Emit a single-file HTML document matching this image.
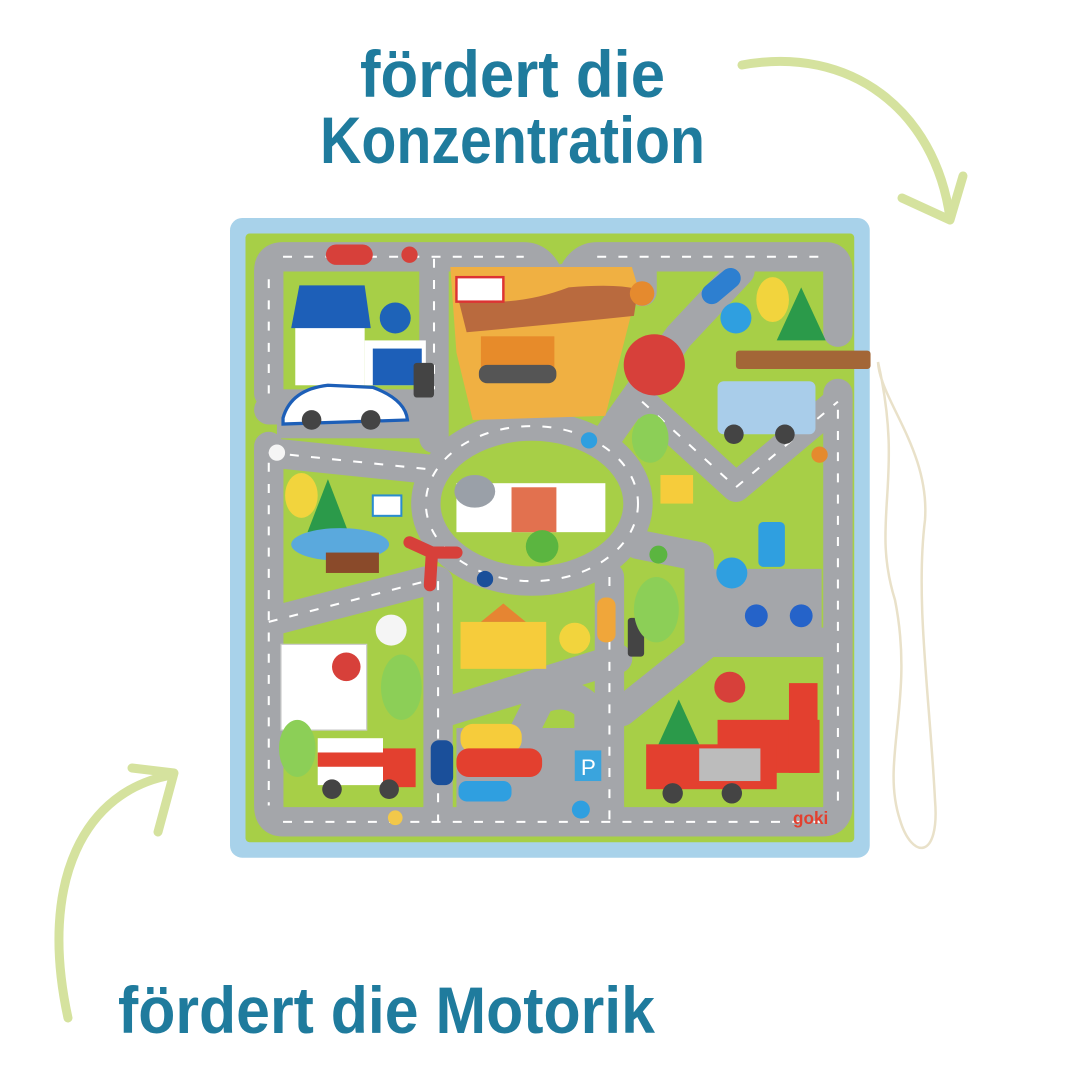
<!DOCTYPE html>
<html><head><meta charset="utf-8"><style>
html,body{margin:0;padding:0;background:#fff;width:1080px;height:1080px;overflow:hidden}
</style></head><body>
<svg width="1080" height="1080" viewBox="0 0 1080 1080" xmlns="http://www.w3.org/2000/svg">
<rect width="1080" height="1080" fill="#fff"/>
<g font-family="Liberation Sans, sans-serif" font-weight="bold" fill="#1f7b9d" font-size="66">
<text x="360" y="97" textLength="305" lengthAdjust="spacingAndGlyphs">fördert die</text>
<text x="320" y="163" textLength="385" lengthAdjust="spacingAndGlyphs">Konzentration</text>
<text x="118" y="1033" textLength="537" lengthAdjust="spacingAndGlyphs">fördert die Motorik</text>
</g>
<g stroke="#d5e29e" stroke-width="9" fill="none" stroke-linecap="round" stroke-linejoin="round">
<path d="M742,65 C850,45 935,110 950,218"/>
<path d="M902,198 L950,220 L963,176"/>
<path d="M68,1018 C38,880 85,790 172,775"/>
<path d="M132,768 L174,773 L158,832"/>
</g>
<g transform="translate(230,218) scale(0.408)">
<rect x="0" y="0" width="1568" height="1568" rx="30" fill="#a8d2ea"/>
<rect x="38" y="38" width="1492" height="1492" rx="10" fill="#a7cf47"/>
<g stroke="#a4a6aa" stroke-width="72" fill="none" stroke-linejoin="round" stroke-linecap="round">
<path d="M95,430 L95,130 Q95,95 130,95 L720,95 Q760,95 780,140 Q800,160 840,140 Q860,95 900,95 L1460,95 Q1490,95 1490,130 L1490,280"/>
<path d="M95,560 L95,1440 Q95,1480 130,1480 L1450,1480 Q1490,1480 1490,1440 L1490,430"/>
<path d="M500,100 L500,540"/>
<ellipse cx="740" cy="700" rx="260" ry="190"/>
<path d="M95,575 L480,615"/>
<path d="M95,990 L480,890"/>
<path d="M510,890 L510,1480"/>
<path d="M930,530 L1100,290 L1250,130"/>
<path d="M1010,450 L1240,660 L1490,450"/>
<path d="M1000,800 L1150,830 L1150,1040 L1490,1040"/>
<path d="M930,880 L930,1480"/>
<path d="M530,1210 L950,1080"/>
<path d="M960,1210 L1160,1050"/>
<path d="M95,470 L480,470"/>
<path d="M720,1260 L760,1180 Q830,1150 880,1200 L880,1400"/>
<path d="M1010,110 L1010,180"/>
</g>
<g stroke="#fff" stroke-width="5" fill="none" stroke-dasharray="22 30">
<path d="M130,95 L720,95 M900,95 L1460,95 M130,1480 L1450,1480 M95,150 L95,430 M95,600 L95,1440 M1490,470 L1490,1440"/>
<ellipse cx="740" cy="700" rx="260" ry="190"/>
<path d="M500,100 L500,540 M510,890 L510,1480 M930,880 L930,1480 M95,575 L480,615 M95,990 L480,890 M1010,450 L1240,660 L1490,450"/>
</g>
<!-- police -->
<rect x="160" y="260" width="170" height="150" fill="#fff"/>
<polygon points="150,270 170,165 330,165 345,270" fill="#1d5fb8"/>
<rect x="330" y="300" width="150" height="110" fill="#fff"/>
<rect x="350" y="320" width="120" height="90" fill="#1d5fb8"/>
<rect x="115" y="420" width="400" height="120" fill="#a4a6aa"/>
<path d="M130,490 Q150,420 240,410 L350,415 Q430,445 435,495 L130,505Z" fill="#fff" stroke="#1d5fb8" stroke-width="8"/>
<circle cx="200" cy="495" r="24" fill="#444"/><circle cx="345" cy="495" r="24" fill="#444"/>
<circle cx="405" cy="245" r="38" fill="#1e63b8"/>
<!-- construction -->
<polygon points="540,120 985,120 1000,170 920,485 595,495 555,330" fill="#f0b042"/>
<path d="M560,200 Q700,220 830,170 Q950,160 1000,175 L990,240 Q800,260 580,280Z" fill="#b96a3e"/>
<rect x="555" y="145" width="115" height="60" fill="#fff" stroke="#d33" stroke-width="6"/>
<rect x="615" y="290" width="180" height="100" fill="#e78b2a"/>
<rect x="610" y="360" width="190" height="45" rx="20" fill="#555"/>
<circle cx="1040" cy="360" r="75" fill="#d7403a"/>
<circle cx="1010" cy="185" r="30" fill="#e58a2e"/>
<rect x="1150" y="145" width="110" height="50" rx="25" fill="#2d7fd0" transform="rotate(-40 1200 170)"/>
<circle cx="1240" cy="245" r="38" fill="#2f9fe0"/>
<!-- top right -->
<polygon points="1340,300 1400,170 1460,300" fill="#2b9a4a"/>
<ellipse cx="1330" cy="200" rx="40" ry="55" fill="#f2d43d"/>
<rect x="1195" y="400" width="240" height="130" rx="15" fill="#a9cdea"/>
<circle cx="1235" cy="530" r="24" fill="#444"/><circle cx="1360" cy="530" r="24" fill="#444"/>
<rect x="1240" y="325" width="330" height="45" rx="8" fill="#a36637"/>
<!-- zoo -->
<rect x="555" y="650" width="365" height="120" fill="#fff"/>
<rect x="690" y="660" width="110" height="110" fill="#e2714f"/>
<ellipse cx="600" cy="670" rx="50" ry="40" fill="#9aa0a8"/>
<circle cx="765" cy="805" r="40" fill="#5bb540"/>
<!-- left middle -->
<polygon points="190,770 240,640 290,770" fill="#2b9a4a"/>
<ellipse cx="175" cy="680" rx="40" ry="55" fill="#f2d43d"/>
<ellipse cx="270" cy="800" rx="120" ry="40" fill="#5aa9dd"/>
<rect x="235" y="820" width="130" height="50" fill="#8a4a2a"/>
<rect x="350" y="680" width="70" height="50" fill="#fff" stroke="#2a8ccf" stroke-width="5"/>
<path d="M495,820 L440,795 M495,820 L555,820 M495,820 L490,900" stroke="#d7403a" stroke-width="30" stroke-linecap="round"/>
<circle cx="395" cy="1010" r="38" fill="#f5f5f5"/>
<!-- hospital -->
<rect x="125" y="1045" width="210" height="210" fill="#fff" stroke="#ccc" stroke-width="3"/>
<circle cx="285" cy="1100" r="35" fill="#d7403a"/>
<rect x="215" y="1275" width="160" height="115" fill="#fff"/>
<rect x="215" y="1310" width="160" height="35" fill="#e3402f"/>
<rect x="375" y="1300" width="80" height="95" fill="#e3402f"/>
<circle cx="250" cy="1400" r="24" fill="#444"/><circle cx="390" cy="1400" r="24" fill="#444"/>
<ellipse cx="420" cy="1150" rx="50" ry="80" fill="#8ccf57"/>
<ellipse cx="165" cy="1300" rx="45" ry="70" fill="#8ccf57"/>
<!-- school -->
<rect x="565" y="990" width="210" height="115" fill="#f6cc3b"/>
<polygon points="615,990 670,945 725,990" fill="#e68532"/>
<circle cx="845" cy="1030" r="38" fill="#f2d43d"/>
<rect x="900" y="930" width="45" height="110" rx="20" fill="#f0a63a"/>
<rect x="975" y="980" width="40" height="95" rx="8" fill="#444"/>
<ellipse cx="1045" cy="960" rx="55" ry="80" fill="#8ccf57"/>
<!-- parking -->
<rect x="555" y="1250" width="340" height="200" fill="#a4a6aa"/>
<rect x="565" y="1240" width="150" height="70" rx="30" fill="#f6cc3b"/>
<rect x="555" y="1300" width="210" height="70" rx="30" fill="#e3402f"/>
<rect x="560" y="1380" width="130" height="50" rx="20" fill="#2f9fe0"/>
<rect x="845" y="1305" width="65" height="75" fill="#3aa4dd"/>
<text x="860" y="1365" font-family="Liberation Sans, sans-serif" font-size="55" fill="#fff">P</text>
<rect x="492" y="1280" width="55" height="110" rx="20" fill="#1a4f9a"/>
<circle cx="860" cy="1450" r="22" fill="#2f9fe0"/>
<circle cx="405" cy="1470" r="18" fill="#f2c84a"/>
<!-- fire -->
<polygon points="1050,1290 1100,1180 1150,1290" fill="#2b9a4a"/>
<rect x="1195" y="1230" width="250" height="130" fill="#e3402f"/>
<rect x="1370" y="1140" width="70" height="220" fill="#e3402f"/>
<rect x="1020" y="1290" width="320" height="110" fill="#e3402f"/>
<rect x="1150" y="1300" width="150" height="80" fill="#bcbcbc"/>
<circle cx="1085" cy="1410" r="25" fill="#444"/><circle cx="1230" cy="1410" r="25" fill="#444"/>
<circle cx="1225" cy="1150" r="38" fill="#d7403a"/>
<text x="1380" y="1485" font-family="Liberation Sans, sans-serif" font-weight="bold" font-size="42" fill="#e3402f">goki</text>
<!-- motorbike & pump -->
<rect x="1160" y="860" width="290" height="160" fill="#a4a6aa"/>
<rect x="1295" y="745" width="65" height="110" rx="12" fill="#2f9fe0"/>
<circle cx="1230" cy="870" r="38" fill="#2f9fe0"/>
<circle cx="1290" cy="975" r="28" fill="#2563c9"/><circle cx="1400" cy="975" r="28" fill="#2563c9"/>
<circle cx="1050" cy="825" r="22" fill="#5bb540"/>
<circle cx="625" cy="885" r="20" fill="#1a4f9a"/>
<circle cx="880" cy="545" r="20" fill="#2f9fe0"/>
<circle cx="1445" cy="580" r="20" fill="#e58a2e"/>
<circle cx="115" cy="575" r="20" fill="#f5f5f5"/>
<rect x="235" y="65" width="115" height="50" rx="25" fill="#d7403a"/>
<circle cx="440" cy="90" r="20" fill="#d7403a"/>
<rect x="1055" y="630" width="80" height="70" fill="#f6cc3b"/>
<ellipse cx="1030" cy="540" rx="45" ry="60" fill="#8ccf57"/>
<rect x="450" y="355" width="50" height="85" rx="8" fill="#444"/>
</g>
<path d="M878,362 C905,480 870,520 895,600 C915,700 880,760 900,820 C912,860 940,860 935,800 C930,700 915,600 925,520 C930,450 880,400 878,362" stroke="#e9e1c9" stroke-width="2.5" fill="none"/>
</svg>
</body></html>
